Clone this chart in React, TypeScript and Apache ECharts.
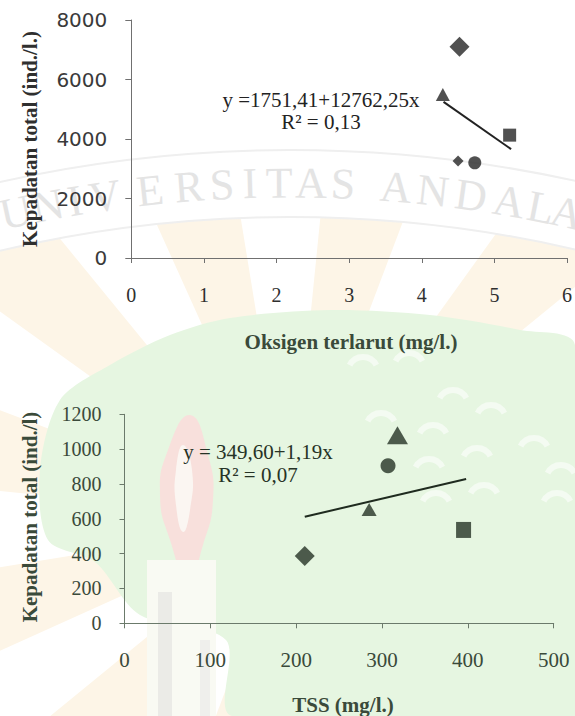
import React, { useEffect, useRef } from "react";
import * as echarts from "echarts";

// ---- Data: dissolved oxygen vs total density ----
const oxygenX = [4.52, 4.29, 5.21, 4.5, 4.73];
const oxygenY = [7100, 5500, 4130, 3260, 3200];
const oxygenTrendX = [4.3, 5.23];
const oxygenTrendY = [5250, 3660];
const oxygenTicks = [0, 1, 2, 3, 4, 5, 6];
const densityTopTicks = [0, 2000, 4000, 6000, 8000];
const oxygenEquation = ["y =1751,41+12762,25x", "R\u00B2 = 0,13"];

// ---- Data: TSS vs total density ----
const tssX = [318, 307, 285, 210, 395];
const tssY = [1080, 905, 654, 386, 536];
const tssTrendX = [210, 398];
const tssTrendY = [612, 828];
const tssTicks = [0, 100, 200, 300, 400, 500];
const densityBottomTicks = [0, 200, 400, 600, 800, 1000, 1200];
const tssEquation = ["y = 349,60+1,19x", "R\u00B2 = 0,07"];

// ---- Labels ----
const topXName = "Oksigen terlarut (mg/l.)";
const topYName = "Kepadatan total (ind./l.)";
const bottomXName = "TSS (mg/l.)";
const bottomYName = "Kepadatan total (ind./l)";
const watermark = "UNIVERSITAS ANDALAS";

// ---- Marker styles ----
const oxygenMarkers = [
  { symbol: "diamond", size: [20, 20] },
  { symbol: "triangle", size: [14, 13] },
  { symbol: "rect", size: [13, 13] },
  { symbol: "diamond", size: [11, 11] },
  { symbol: "circle", size: 13 },
];
const tssMarkers = [
  { symbol: "triangle", size: [21, 18] },
  { symbol: "circle", size: 15 },
  { symbol: "triangle", size: [15, 13] },
  { symbol: "diamond", size: [20, 20] },
  { symbol: "rect", size: [15, 16] },
];

const SERIF = '"Liberation Serif", "Times New Roman", serif';
const TOP_TEXT = "#2f2f2f";
const BOT_TEXT = "#3a4a3a";

function axisFromTicks(ticks: number[]) {
  return { min: ticks[0], max: ticks[ticks.length - 1], interval: ticks[1] - ticks[0] };
}

function buildBackground(): any[] {
  const els: any[] = [];
  // faint sun rays
  const rays = 12;
  const step = (Math.PI * 2) / (rays * 2);
  for (let i = 0; i < rays; i++) {
    const a0 = i * 2 * step + 0.1;
    els.push({
      type: "sector",
      z: -100,
      shape: { cx: 290, cy: 520, r: 900, r0: 0, startAngle: a0, endAngle: a0 + step },
      style: { fill: "#fdf5e7" },
      silent: true,
    });
  }
  // white area above band
  els.push({
    type: "ring",
    z: -99,
    shape: { cx: 290, cy: 1480, r: 2600, r0: 1263 },
    style: { fill: "#ffffff" },
    silent: true,
  });
  // band lines
  [1263, 1330].forEach((r) => {
    els.push({
      type: "arc",
      z: -98,
      shape: { cx: 290, cy: 1480, r, startAngle: Math.PI * 1.3, endAngle: Math.PI * 1.7, clockwise: true },
      style: { stroke: "#efefef", lineWidth: 2, fill: null },
      silent: true,
    });
  });
  // watermark letters
  const letterX = [16, 48, 75, 105, 150, 189, 222, 250, 279, 311, 343, -1, 396, 433, 471, 509, 541, 567, 600];
  const R = 1297;
  watermark.split("").forEach((ch, i) => {
    const x = letterX[i];
    if (ch === " " || x < 0) return;
    const dx = x - 290;
    const y = 1480 - Math.sqrt(R * R - dx * dx);
    els.push({
      type: "text",
      z: -97,
      x,
      y,
      rotation: Math.asin(-dx / R),
      style: {
        text: ch,
        fill: "#e4e4e4",
        font: `44px ${SERIF}`,
        align: "center",
        verticalAlign: "middle",
      },
      silent: true,
    });
  });
  // green tree
  els.push({
    type: "polygon",
    z: -96,
    shape: {
      points: [
        [230, 318], [330, 310], [430, 315], [520, 330], [575, 345], [575, 716],
        [232, 716], [226, 640], [140, 615], [95, 562], [48, 540], [40, 470],
        [60, 400], [110, 365], [170, 335],
      ],
      smooth: 0.3,
    },
    style: { fill: "#e6f6e1" },
    silent: true,
  });
  // flame
  els.push({
    type: "polygon",
    z: -95,
    shape: {
      points: [[190, 415], [208, 455], [213, 500], [203, 545], [188, 580], [170, 540], [160, 495], [168, 450]],
      smooth: 0.5,
    },
    style: { fill: "#f8e0dc" },
    silent: true,
  });
  els.push({
    type: "polygon",
    z: -94,
    shape: {
      points: [[183, 445], [192, 470], [190, 510], [183, 532], [176, 505], [176, 470]],
      smooth: 0.5,
    },
    style: { fill: "#fbf6f2" },
    silent: true,
  });
  // torch handle
  els.push({ type: "rect", z: -95, shape: { x: 147, y: 560, width: 69, height: 156 }, style: { fill: "#f9faf3" }, silent: true });
  els.push({ type: "rect", z: -94, shape: { x: 158, y: 592, width: 14, height: 124 }, style: { fill: "#ebebe7" }, silent: true });
  els.push({ type: "rect", z: -94, shape: { x: 200, y: 640, width: 10, height: 76 }, style: { fill: "#efefec" }, silent: true });
  // white arcs in the canopy
  const arcs = [
    [363, 372], [409, 368], [453, 405], [381, 428], [491, 420], [433, 440],
    [534, 453], [429, 474], [477, 463], [561, 480], [436, 508], [484, 500], [557, 508],
  ];
  arcs.forEach(([cx, cy]) => {
    els.push({
      type: "arc",
      z: -93,
      shape: { cx, cy, r: 15, startAngle: Math.PI * 1.15, endAngle: Math.PI * 1.85, clockwise: true },
      style: { stroke: "#f4fbf2", lineWidth: 6, fill: null },
      silent: true,
    });
  });
  return els;
}

function textEl(text: string, x: number, y: number, font: string, fill: string, rotation = 0) {
  return {
    type: "text",
    z: 100,
    x,
    y,
    rotation,
    style: { text, fill, font, align: "center", verticalAlign: "middle" },
    silent: true,
  };
}

const plain = (v: number) => String(v);

export default function App() {
  const ref = useRef<HTMLDivElement>(null);

  useEffect(() => {
    if (!ref.current) return;
    const chart = echarts.init(ref.current, null, { renderer: "svg" });

    const axisLine = (color: string) => ({ show: true, lineStyle: { color, width: 1 } });
    const axisTick = (color: string, length: number) => ({ show: true, length, lineStyle: { color, width: 1 } });

    const option: any = {
      animation: false,
      backgroundColor: "#ffffff",
      grid: [
        { left: 131.3, top: 20, width: 440.4, height: 238 },
        { left: 124.5, top: 414.3, width: 429.2, height: 209 },
      ],
      xAxis: [
        {
          type: "value",
          gridIndex: 0,
          ...axisFromTicks(oxygenTicks),
          axisLine: axisLine("#707070"),
          axisTick: axisTick("#707070", 5),
          splitLine: { show: false },
          axisLabel: { fontFamily: SERIF, fontSize: 20, color: TOP_TEXT, margin: 27, formatter: plain },
        },
        {
          type: "value",
          gridIndex: 1,
          ...axisFromTicks(tssTicks),
          axisLine: axisLine("#6b7a6b"),
          axisTick: axisTick("#6b7a6b", 5),
          splitLine: { show: false },
          axisLabel: { fontFamily: SERIF, fontSize: 21, color: BOT_TEXT, margin: 26, formatter: plain },
        },
      ],
      yAxis: [
        {
          type: "value",
          gridIndex: 0,
          ...axisFromTicks(densityTopTicks),
          axisLine: axisLine("#707070"),
          axisTick: axisTick("#707070", 6),
          splitLine: { show: false },
          axisLabel: {
            fontFamily: '"DejaVu Sans", sans-serif',
            fontSize: 20,
            color: "#3a3a3a",
            margin: 24,
            formatter: plain,
          },
        },
        {
          type: "value",
          gridIndex: 1,
          ...axisFromTicks(densityBottomTicks),
          axisLine: axisLine("#6b7a6b"),
          axisTick: axisTick("#6b7a6b", 5),
          splitLine: { show: false },
          axisLabel: { fontFamily: SERIF, fontSize: 20, color: BOT_TEXT, margin: 23, formatter: plain },
        },
      ],
      series: [
        {
          type: "scatter",
          xAxisIndex: 0,
          yAxisIndex: 0,
          itemStyle: { color: "#262626" },
          data: oxygenX.map((x, i) => ({
            value: [x, oxygenY[i]],
            symbol: oxygenMarkers[i].symbol,
            symbolSize: oxygenMarkers[i].size,
          })),
          z: 4,
        },
        {
          type: "line",
          xAxisIndex: 0,
          yAxisIndex: 0,
          symbol: "none",
          lineStyle: { color: "#222222", width: 2 },
          data: oxygenTrendX.map((x, i) => [x, oxygenTrendY[i]]),
          z: 3,
        },
        {
          type: "scatter",
          xAxisIndex: 1,
          yAxisIndex: 1,
          itemStyle: { color: "#263326" },
          data: tssX.map((x, i) => ({
            value: [x, tssY[i]],
            symbol: tssMarkers[i].symbol,
            symbolSize: tssMarkers[i].size,
          })),
          z: 4,
        },
        {
          type: "line",
          xAxisIndex: 1,
          yAxisIndex: 1,
          symbol: "none",
          lineStyle: { color: "#1f2b1f", width: 2 },
          data: tssTrendX.map((x, i) => [x, tssTrendY[i]]),
          z: 3,
        },
      ],
      graphic: {
        elements: [
          ...buildBackground(),
          textEl(oxygenEquation[0], 321, 100, `21px ${SERIF}`, "#222222"),
          textEl(oxygenEquation[1], 321, 122, `21px ${SERIF}`, "#222222"),
          textEl(tssEquation[0], 258, 452, `21px ${SERIF}`, "#263326"),
          textEl(tssEquation[1], 258, 475, `21px ${SERIF}`, "#263326"),
          textEl(topYName, 29.5, 139, `bold 21px ${SERIF}`, TOP_TEXT, Math.PI / 2),
          textEl(topXName, 351, 342, `bold 21px ${SERIF}`, BOT_TEXT),
          textEl(bottomYName, 30, 517, `bold 21px ${SERIF}`, BOT_TEXT, Math.PI / 2),
          textEl(bottomXName, 343, 705, `bold 21px ${SERIF}`, BOT_TEXT),
        ],
      },
    };

    chart.setOption(option);
    return () => chart.dispose();
  }, []);

  return (
    <div
      ref={ref}
      style={{ position: "absolute", left: 0, top: 0, width: 575, height: 716 }}
    />
  );
}
